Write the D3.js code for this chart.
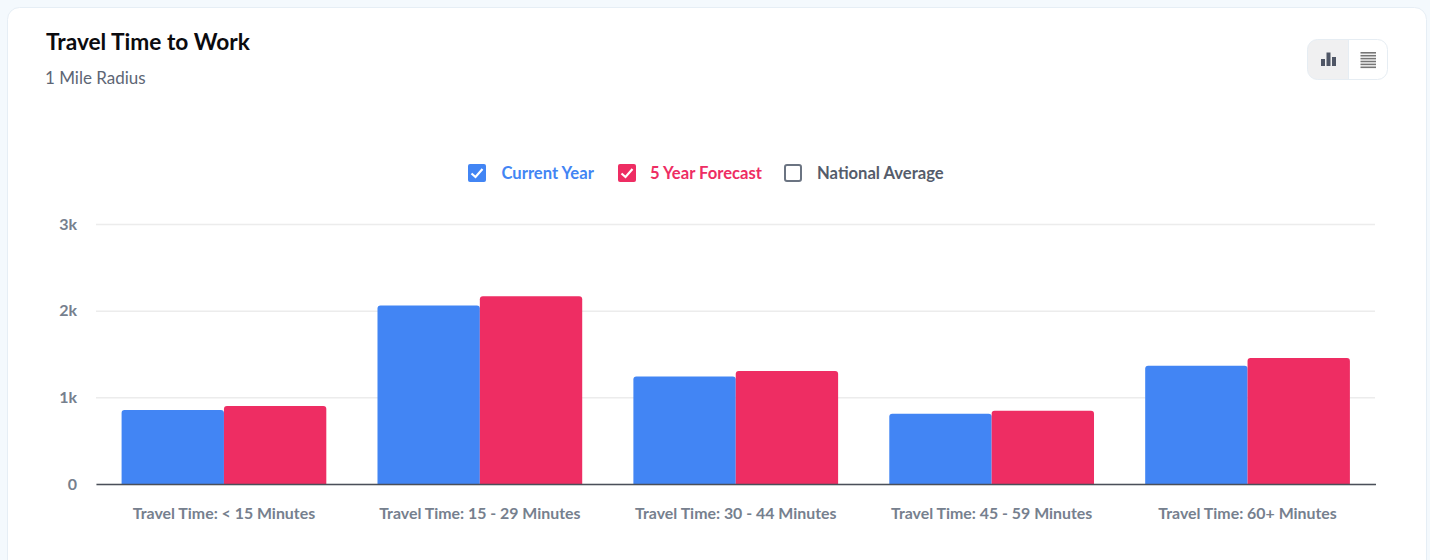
<!DOCTYPE html>
<html>
<head>
<meta charset="utf-8">
<script src="https://cdn.jsdelivr.net/npm/d3@7"></script>
<style>
html,body{margin:0;padding:0;background:#f4f9fd;}
svg{display:block;}
text{font-family:Lato,"Open Sans",sans-serif;}
</style>
</head>
<body>
<svg id="chart" width="1430" height="560"></svg>
<script>
/************************************ Data *******************************/
var categories = ["Travel Time: < 15 Minutes","Travel Time: 15 - 29 Minutes","Travel Time: 30 - 44 Minutes","Travel Time: 45 - 59 Minutes","Travel Time: 60+ Minutes"];
var currentYear = [855,2060,1240,810,1365];
var fiveYear = [900,2165,1305,845,1455];
var seriesNames = ["Current Year","5 Year Forecast"];
var yTicks = [0,1000,2000,3000];
var yTickLabels = ["0","1k","2k","3k"];

var blue = "#4285f4", red = "#ee2d63", grey = "#5d6675";

var svg = d3.select("#chart");

/************************************ Card *******************************/
svg.append("rect").attr("x",7.5).attr("y",7.5).attr("width",1419).attr("height",600)
	.attr("rx",12).attr("fill","#fff").attr("stroke","#e6eef5");

svg.append("text").attr("x",46).attr("y",50).attr("font-size",22.7).attr("font-weight",700)
	.attr("fill","#0b0b0f").text("Travel Time to Work");
svg.append("text").attr("x",45).attr("y",84).attr("font-size",17).attr("fill",grey).text("1 Mile Radius");

/************************************ Toggle *******************************/
var toggle = svg.append("g").attr("transform","translate(1307.5,39.5)");
toggle.append("path").attr("d","M41,0H10a10,10 0 0 0 -10,10V30a10,10 0 0 0 10,10H41Z").attr("fill","#f0f0f1");
toggle.append("rect").attr("x",0).attr("y",0).attr("width",80).attr("height",40).attr("rx",10)
	.attr("fill","none").attr("stroke","#e6edf3");
toggle.append("line").attr("x1",41).attr("x2",41).attr("y1",0).attr("y2",40).attr("stroke","#e6edf3");
[[13.5,7],[19,13.5],[24.5,9]].forEach(function(b){
	toggle.append("rect").attr("x",b[0]).attr("y",26.5-b[1]).attr("width",4).attr("height",b[1]).attr("fill","#4f5666");
});
d3.range(6).forEach(function(i){
	toggle.append("rect").attr("x",53).attr("y",12.5+i*2.9).attr("width",15.5).attr("height",1.6).attr("fill","#777");
});

/************************************ Legend *******************************/
function legendItem(x,label,color,checked,textX,textColor){
	var g = svg.append("g").attr("transform","translate("+x+",164)");
	g.append("rect").attr("x",checked?0:1).attr("y",checked?0:1)
		.attr("width",checked?18:16).attr("height",checked?18:16).attr("rx",2)
		.attr("fill",checked?color:"none").attr("stroke",checked?"none":color).attr("stroke-width",2);
	if(checked){
		g.append("path").attr("d","M3.5,9.5L7.5,13L14.5,5").attr("fill","none").attr("stroke","#fff").attr("stroke-width",2.2);
	}
	svg.append("text").attr("x",textX).attr("y",178.5).attr("font-size",16.6).attr("font-weight",700)
		.attr("fill",textColor).text(label);
}
legendItem(468,seriesNames[0],blue,true,501.5,blue);
legendItem(618,seriesNames[1],red,true,650,red);
legendItem(784,"National Average","#6b7482",false,817,"#555c6b");

/************************************ Scales *******************************/
var x = d3.scaleBand().domain(categories).range([96,1375.5]).paddingInner(0.2).paddingOuter(0.1);
var inner = d3.scaleBand().domain(seriesNames).range([0,x.bandwidth()]);
var y = d3.scaleLinear().domain([0,3000]).range([484,224]);

/************************************ Axes *******************************/
var yAxis = svg.append("g").attr("transform","translate(96,0)")
	.call(d3.axisLeft(y).tickValues(yTicks).tickFormat(function(d,i){return yTickLabels[i];}).tickSize(-1279).tickPadding(19));
yAxis.select(".domain").remove();
yAxis.selectAll(".tick line").attr("stroke","#ececec").attr("stroke-width",1.5);
yAxis.selectAll(".tick text").attr("fill","#76808e").attr("font-size",16).attr("font-weight",700).attr("font-family","Lato");

/************************************ Bars *******************************/
function rounded(px,py,w,h,r){
	return "M"+px+","+(py+h)+"V"+(py+r)+"Q"+px+","+py+" "+(px+r)+","+py+"H"+(px+w-r)+"Q"+(px+w)+","+py+" "+(px+w)+","+(py+r)+"V"+(py+h)+"Z";
}
[[currentYear,seriesNames[0],blue],[fiveYear,seriesNames[1],red]].forEach(function(s){
	svg.append("g").selectAll("path").data(s[0]).enter().append("path")
		.attr("fill",s[2])
		.attr("d",function(d,i){
			return rounded(x(categories[i])+inner(s[1]),y(d),inner.bandwidth(),y(0)-y(d),3);
		});
});

var xAxis = svg.append("g").attr("transform","translate(0,484)")
	.call(d3.axisBottom(x).tickSize(0).tickPadding(24));
xAxis.select(".domain").attr("stroke","#4a4f59").attr("stroke-width",1.5);
xAxis.selectAll(".tick text").attr("fill","#76808e").attr("font-size",15.9).attr("font-weight",700).attr("font-family","Lato");
</script>
</body>
</html>
